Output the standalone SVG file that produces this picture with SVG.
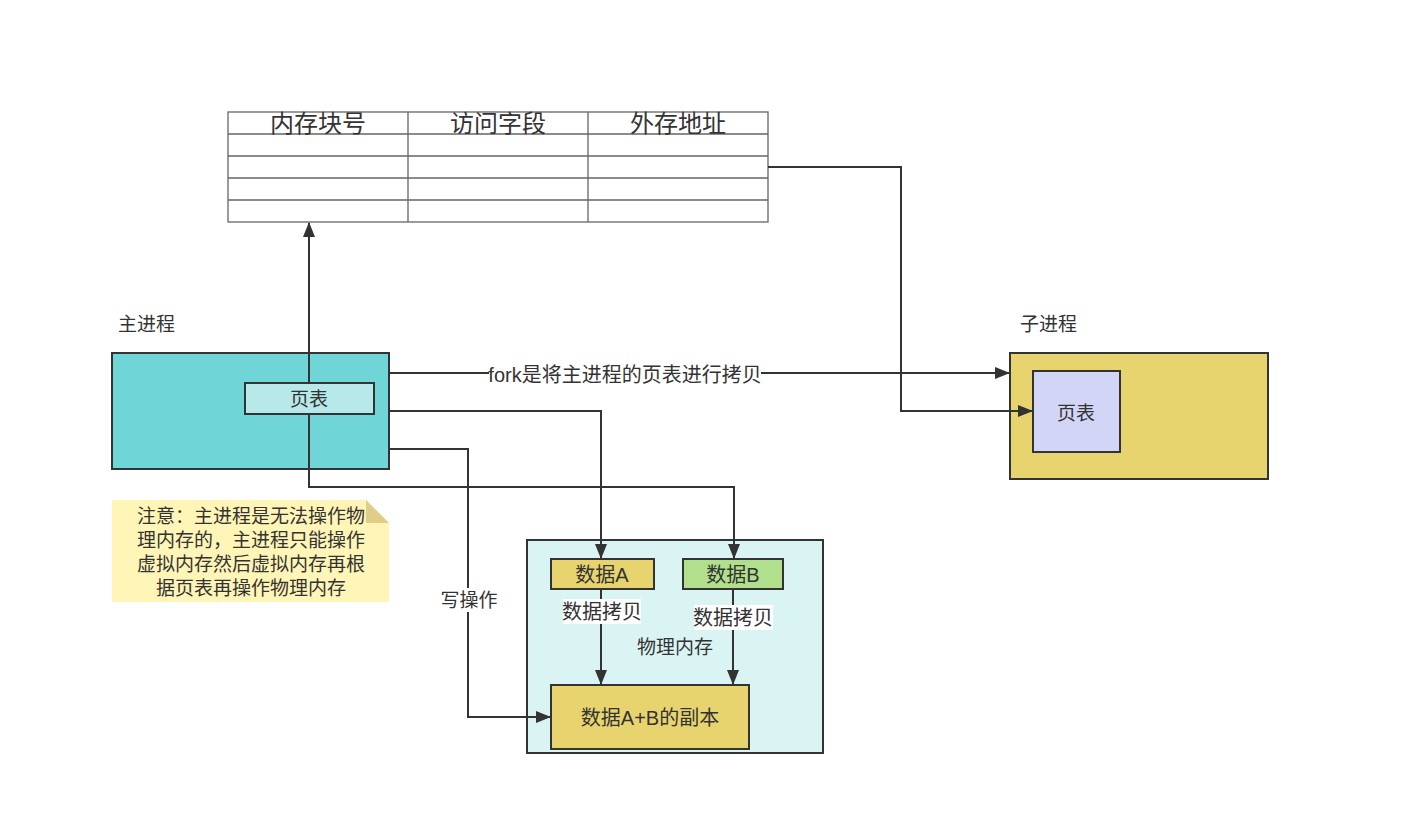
<svg xmlns="http://www.w3.org/2000/svg" width="1414" height="832" viewBox="0 0 1414 832">
<defs>
<style>
text{font-family:"Liberation Sans","Noto Sans CJK SC",sans-serif;fill:#333;}
.box{stroke:#333;stroke-width:2;}
.tbl{fill:none;stroke:#666;stroke-width:1.3;}
.ln{fill:none;stroke:#333;stroke-width:2;}
.c{text-anchor:middle;dominant-baseline:central;}
</style>
<marker id="arr" markerWidth="15" markerHeight="12" refX="14" refY="6" orient="auto" markerUnits="userSpaceOnUse">
<path d="M0,0 L15,6 L0,12 Z" fill="#333"/>
</marker>
</defs>
<rect width="1414" height="832" fill="#fff"/>

<g id="table">
<rect x="228" y="112" width="540" height="110" fill="#fff" class="tbl"/>
<path class="tbl" d="M408,112V222M588,112V222M228,134H768M228,156H768M228,178H768M228,200H768"/>
<text x="318" y="123" class="c" font-size="24">内存块号</text>
<text x="498" y="123" class="c" font-size="24">访问字段</text>
<text x="678" y="123" class="c" font-size="24">外存地址</text>
</g>

<g id="main-process">
<text x="118" y="324" font-size="19" dominant-baseline="central">主进程</text>
<rect x="112" y="353" width="277" height="116" fill="#6fd5d7" class="box"/>
</g>

<g id="child-process">
<text x="1020" y="324" font-size="19" dominant-baseline="central">子进程</text>
<rect x="1010" y="353" width="258" height="126" fill="#e8d46e" class="box"/>
<rect x="1033" y="371" width="87" height="81" fill="#d3d5f6" class="box"/>
<text x="1076" y="413" class="c" font-size="19">页表</text>
</g>

<g id="physical-memory">
<rect x="527" y="540" width="296" height="213" fill="#daf3f3" class="box"/>
<text x="675" y="647" class="c" font-size="19">物理内存</text>
</g>

<g id="data-a">
<rect x="551" y="559" width="103" height="30" fill="#e8d46e" class="box"/>
<text x="602" y="575" class="c" font-size="20">数据A</text>
</g>
<g id="data-b">
<rect x="683" y="559" width="100" height="30" fill="#b1e08c" class="box"/>
<text x="733" y="575" class="c" font-size="20">数据B</text>
</g>
<g id="data-copy">
<rect x="551" y="685" width="198" height="64" fill="#e8d46e" class="box"/>
<text x="650" y="718" class="c" font-size="20">数据A+B的副本</text>
</g>

<g id="note">
<path d="M112,500 H366 L389,523 V602 H112 Z" fill="#fff5b6"/>
<path d="M366,500 L389,523 H366 Z" fill="#e0cd88"/>
<text x="251" y="516" class="c" font-size="19">注意：主进程是无法操作物</text>
<text x="251" y="540" class="c" font-size="19">理内存的，主进程只能操作</text>
<text x="251" y="564" class="c" font-size="19">虚拟内存然后虚拟内存再根</text>
<text x="251" y="588" class="c" font-size="19">据页表再操作物理内存</text>
</g>

<g id="connectors">
<path class="ln" d="M309,383 V223" marker-end="url(#arr)"/>
<path class="ln" d="M309,414 V487 H734 V558" marker-end="url(#arr)"/>
<path class="ln" d="M389,373 H1009" marker-end="url(#arr)"/>
<path class="ln" d="M389,411 H601 V558" marker-end="url(#arr)"/>
<path class="ln" d="M389,449 H468 V717 H550" marker-end="url(#arr)"/>
<path class="ln" d="M768,167 H901 V411 H1032" marker-end="url(#arr)"/>
<path class="ln" d="M601,589 V684" marker-end="url(#arr)"/>
<path class="ln" d="M733,589 V684" marker-end="url(#arr)"/>
<rect x="489" y="363" width="272" height="24" fill="#fff"/>
<text x="625" y="375" class="c" font-size="20">fork是将主进程的页表进行拷贝</text>
<rect x="439" y="588" width="60" height="24" fill="#fff"/>
<text x="469" y="600" class="c" font-size="19">写操作</text>
<rect x="563" y="599" width="78" height="25" fill="#fff"/>
<text x="602" y="612" class="c" font-size="20">数据拷贝</text>
<rect x="694" y="605" width="79" height="25" fill="#fff"/>
<text x="733" y="618" class="c" font-size="20">数据拷贝</text>
</g>

<g id="main-pagetable">
<rect x="245" y="383" width="129" height="31" fill="#b8e9ea" class="box"/>
<text x="309" y="399" class="c" font-size="19">页表</text>
</g>
<path class="ln" d="M309,353 V383"/>
<path class="ln" d="M309,414 V469"/>
</svg>
